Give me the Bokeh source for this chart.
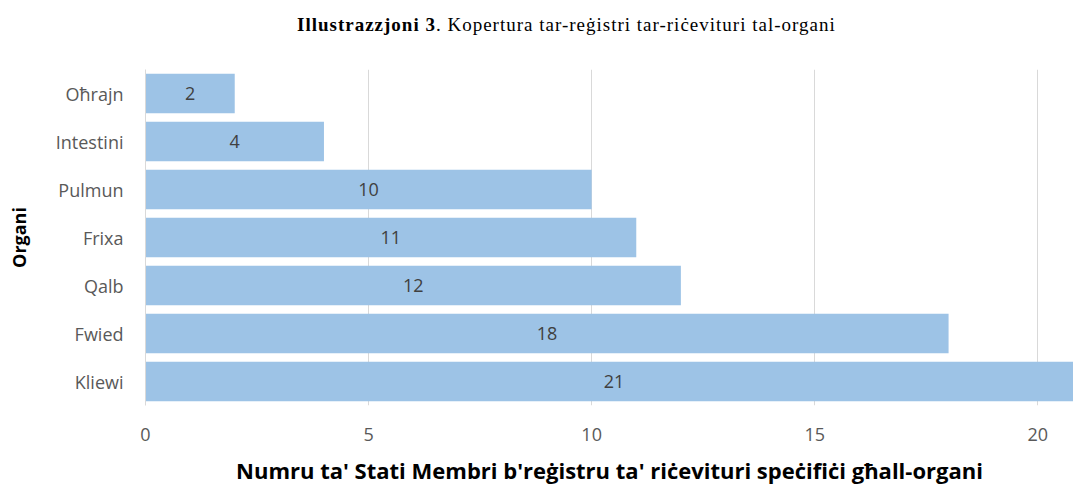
from bokeh.plotting import figure
from bokeh.models import Range1d, FactorRange, ColumnDataSource, LabelSet, FixedTicker, Div
from bokeh.layouts import column
from bokeh.core.properties import value
from bokeh.embed import file_html
from bokeh.resources import INLINE

organs = ["Kliewi", "Fwied", "Qalb", "Frixa", "Pulmun", "Intestini", "Oħrajn"]
counts = [21, 18, 12, 11, 10, 4, 2]
x_ticks = [0, 5, 10, 15, 20]
title_bold = "Illustrazzjoni 3"
title_rest = ". Kopertura tar-reġistri tar-riċevituri tal-organi"
x_label = "Numru ta' Stati Membri b'reġistru ta' riċevituri speċifiċi għall-organi"
y_label = "Organi"

src = ColumnDataSource(dict(organ=organs, count=counts,
                            mid=[c / 2 for c in counts],
                            txt=[str(c) for c in counts]))

title = Div(text=f"<span style='font-weight:bold'>{title_bold}</span>{title_rest}",
            width=1073, height=45, margin=(0, 0, 0, 0),
            styles={"font-family": "Liberation Serif", "font-size": "19px",
                    "letter-spacing": "1px",
                    "color": "#000000", "padding-left": "297px",
                    "padding-top": "14px", "line-height": "22px",
                    "white-space": "nowrap"})

p = figure(width=1073, height=442,
           y_range=FactorRange(*organs),
           x_range=Range1d(0, 20.8),
           output_backend="svg", toolbar_location=None,
           min_border_left=145, min_border_right=0,
           min_border_top=24, min_border_bottom=80, margin=(0, 0, 0, 0))
p.outline_line_color = None

p.hbar(y="organ", right="count", height=0.82, source=src,
       fill_color="#9DC3E6", line_color=None)

p.add_layout(LabelSet(x="mid", y="organ", text="txt", source=src,
                      text_align="center", text_baseline="middle",
                      text_font=value("Open Sans"), text_font_size="18px",
                      text_color="#404040", y_offset=0))

# axes
p.xaxis.ticker = FixedTicker(ticks=x_ticks)
p.xaxis.axis_line_color = None
p.xaxis.major_tick_line_color = None
p.xaxis.minor_tick_line_color = None
p.xaxis.major_tick_out = 0
p.xaxis.major_label_standoff = 22
p.xaxis.major_label_text_font = "Open Sans"
p.xaxis.major_label_text_font_size = "18px"
p.xaxis.major_label_text_color = "#595959"
p.xaxis.axis_label = x_label
p.xaxis.axis_label_text_font = "Open Sans"
p.xaxis.axis_label_text_font_style = "bold"
p.xaxis.axis_label_text_font_size = "22px"
p.xaxis.axis_label_text_color = "#000000"
p.xaxis.axis_label_standoff = 11

p.yaxis.axis_line_color = "#D9D9D9"
p.yaxis.major_tick_line_color = None
p.yaxis.minor_tick_line_color = None
p.yaxis.major_tick_out = 0
p.yaxis.major_label_standoff = 22
p.yaxis.major_label_text_font = "Open Sans"
p.yaxis.major_label_text_font_size = "18px"
p.yaxis.major_label_text_color = "#595959"
p.yaxis.axis_label = y_label
p.yaxis.axis_label_text_font = "Open Sans"
p.yaxis.axis_label_text_font_style = "bold"
p.yaxis.axis_label_text_font_size = "18px"
p.yaxis.axis_label_text_color = "#000000"
p.yaxis.axis_label_standoff = 22

p.xgrid.grid_line_color = "#D9D9D9"
p.ygrid.grid_line_color = None

layout = column(title, p, spacing=0, margin=(0, 0, 0, 0))
open("out.html", "w").write(file_html(layout, INLINE))
